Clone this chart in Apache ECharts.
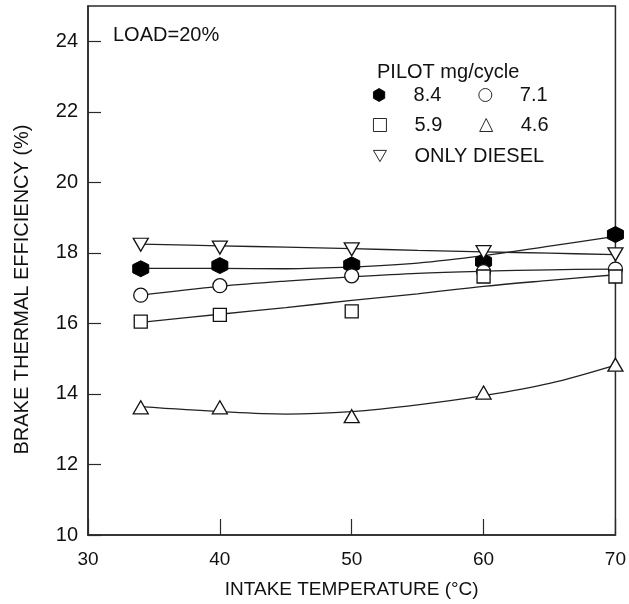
<!DOCTYPE html>
<html>
<head>
<meta charset="utf-8">
<script src="https://cdn.jsdelivr.net/npm/echarts@6/dist/echarts.min.js"></script>
<style>
  html, body { margin: 0; padding: 0; background: #fff; }
  #chart { width: 629px; height: 604px; }
</style>
</head>
<body>
<div id="chart"></div>
<script>
// Measured points: brake thermal efficiency (%) vs intake temperature (°C)
const temps = [34, 40, 50, 60, 70];
const pilot84 = [17.55, 17.64, 17.66, 17.75, 18.52];
const pilot71 = [16.80, 17.07, 17.35, 17.47, 17.54];
const pilot59 = [16.05, 16.24, 16.34, 17.33, 17.33];
const pilot46 = [13.62, 13.62, 13.37, 14.04, 14.83];
const dieselOnly = [18.23, 18.15, 18.10, 18.02, 17.96];

// Fitted trend curves, sampled along the temperature range
const fitTemps = [34, 40, 45, 50, 55, 60, 65, 70];
const fit84 = [17.56, 17.56, 17.55, 17.60, 17.71, 17.92, 18.19, 18.47];
const fit71 = [16.80, 17.05, 17.20, 17.32, 17.42, 17.48, 17.52, 17.54];
const fit59 = [16.03, 16.26, 16.45, 16.65, 16.84, 17.05, 17.22, 17.38];
const fit46 = [13.64, 13.50, 13.43, 13.50, 13.69, 13.95, 14.30, 14.82];
const fitDiesel = [18.25, 18.20, 18.16, 18.12, 18.07, 18.03, 17.99, 17.95];

const xTicks = [30, 40, 50, 60, 70];
const yTicks = [10, 12, 14, 16, 18, 20, 22, 24];

const FONT = '"Liberation Sans", Arial, sans-serif';
const INK = '#111';
const AXIS = '#2a2a2a';

const pairs = (xs, ys) => xs.map((x, i) => [x, ys[i]]);

const hexagon = 'path://M0,-1 L0.866,-0.5 L0.866,0.5 L0,1 L-0.866,0.5 L-0.866,-0.5 Z';
const downTriangle = 'path://M0,0 L2,0 L1,1.73 Z';

function fitLine(values) {
  return {
    type: 'line',
    data: pairs(fitTemps, values),
    smooth: 0.35,
    showSymbol: false,
    silent: true,
    lineStyle: { color: '#222', width: 1.3 },
    z: 2
  };
}

function markers(name, values, symbol, filled, extra) {
  return Object.assign({
    name: name,
    type: 'scatter',
    data: pairs(temps, values),
    symbol: symbol,
    symbolSize: 14,
    itemStyle: filled
      ? { color: '#000', borderColor: '#000', borderWidth: 1, opacity: 1 }
      : { color: '#fff', borderColor: INK, borderWidth: 1.3, opacity: 1 },
    z: 4
  }, extra || {});
}

const legendBase = {
  left: 373,
  orient: 'horizontal',
  padding: 0,
  itemWidth: 13,
  itemHeight: 13,
  itemGap: 37,
  selectedMode: false,
  itemStyle: { borderWidth: 0.9 },
  textStyle: { fontSize: 20, fontFamily: FONT, color: INK, padding: [0, 0, 0, 23], width: 36 }
};

const chart = echarts.init(document.getElementById('chart'), null, { renderer: 'canvas' });

chart.setOption({
  animation: false,
  backgroundColor: '#fff',
  title: [
    { text: 'LOAD=20%', left: 113, top: 25, padding: 0,
      textStyle: { fontSize: 20, fontWeight: 'normal', fontFamily: FONT, color: INK } },
    { text: 'PILOT mg/cycle', left: 377, top: 62, padding: 0,
      textStyle: { fontSize: 20, fontWeight: 'normal', fontFamily: FONT, color: INK } }
  ],
  legend: [
    Object.assign({}, legendBase, { top: 85, data: ['8.4', '7.1'] }),
    Object.assign({}, legendBase, { top: 115, data: ['5.9', '4.6'] }),
    Object.assign({}, legendBase, {
      top: 146,
      data: [{ name: 'ONLY DIESEL', icon: downTriangle }],
      textStyle: Object.assign({}, legendBase.textStyle, { width: null })
    })
  ],
  grid: {
    left: 88, right: 12, top: 6, bottom: 68,
    show: true, borderColor: AXIS, borderWidth: 1.5, backgroundColor: 'transparent'
  },
  xAxis: {
    type: 'value',
    min: xTicks[0], max: xTicks[xTicks.length - 1], interval: 10,
    name: 'INTAKE TEMPERATURE (°C)',
    nameLocation: 'middle',
    nameGap: 45,
    nameTextStyle: { fontSize: 19, fontFamily: FONT, color: INK },
    axisLine: { show: true, lineStyle: { color: AXIS, width: 1.5 } },
    axisTick: { show: true, inside: true, length: 16, lineStyle: { color: AXIS, width: 1.2 } },
    axisLabel: { fontSize: 19, fontFamily: FONT, color: INK, margin: 15 },
    splitLine: { show: false }
  },
  yAxis: {
    type: 'value',
    min: yTicks[0], max: 25, interval: 2,
    name: 'BRAKE THERMAL EFFICIENCY (%)',
    nameLocation: 'middle',
    nameGap: 56,
    nameTextStyle: { fontSize: 20, fontFamily: FONT, color: INK, padding: [0, 38, 0, 0] },
    axisLine: { show: true, lineStyle: { color: AXIS, width: 1.5 } },
    axisTick: { show: true, inside: true, length: 13, lineStyle: { color: AXIS, width: 1.2 } },
    axisLabel: { fontSize: 20, fontFamily: FONT, color: INK, margin: 10, showMaxLabel: false },
    splitLine: { show: false }
  },
  series: [
    fitLine(fitDiesel),
    fitLine(fit84),
    fitLine(fit71),
    fitLine(fit59),
    fitLine(fit46),
    markers('8.4', pilot84, hexagon, true, { symbolSize: 16 }),
    markers('7.1', pilot71, 'circle', false),
    markers('5.9', pilot59, 'rect', false, { symbolSize: 13 }),
    markers('4.6', pilot46, 'triangle', false, { symbolSize: [15, 13] }),
    markers('ONLY DIESEL', dieselOnly, 'triangle', false, { symbolSize: [15, 13], symbolRotate: 180 })
  ]
});
</script>
</body>
</html>
